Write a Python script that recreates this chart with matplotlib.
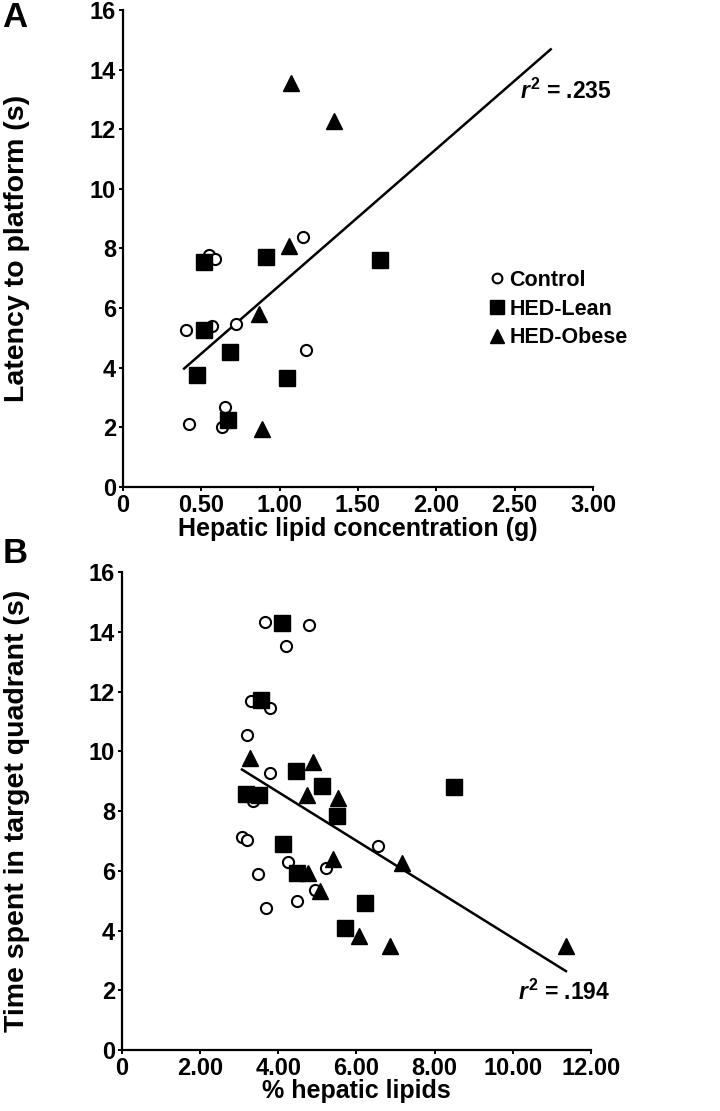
import matplotlib.pyplot as plt
from matplotlib.lines import Line2D

plt.rcParams['font.family'] = ['Liberation Sans', 'DejaVu Sans']
plt.rcParams['font.weight'] = 'bold'
plt.rcParams['axes.labelweight'] = 'bold'
plt.rcParams['mathtext.fontset'] = 'custom'
plt.rcParams['mathtext.rm'] = 'Liberation Sans:bold'
plt.rcParams['mathtext.it'] = 'Liberation Sans:bold:italic'

# panel A: hepatic lipid concentration (g) vs latency (s)
a_ctrl_x = [0.40, 0.42, 0.55, 0.59, 0.57, 0.72, 0.65, 0.63, 1.15, 1.17]
a_ctrl_y = [5.27, 2.12, 7.79, 7.64, 5.41, 5.47, 2.68, 2.01, 8.40, 4.59]
a_lean_x = [0.52, 0.52, 0.47, 0.68, 0.67, 0.91, 1.05, 1.64]
a_lean_y = [7.56, 5.27, 3.74, 4.53, 2.23, 7.73, 3.64, 7.62]
a_obese_x = [1.07, 1.35, 1.06, 0.87, 0.89]
a_obese_y = [13.54, 12.26, 8.07, 5.81, 1.94]
a_fit_x = [0.39, 2.73]
a_fit_y = [3.97, 14.68]

# panel B: % hepatic lipids vs time in target quadrant (s)
b_ctrl_x = [3.65, 4.79, 4.19, 3.31, 3.80, 3.20, 3.80, 3.34, 3.07, 3.20,
            3.48, 4.24, 5.23, 4.95, 4.49, 3.69, 6.54]
b_ctrl_y = [14.33, 14.24, 13.54, 11.67, 11.45, 10.54, 9.28, 8.34, 7.14, 7.02,
            5.90, 6.28, 6.10, 5.35, 4.99, 4.76, 6.82]
b_lean_x = [4.09, 3.57, 3.17, 3.50, 4.46, 5.12, 5.50, 4.11, 4.49, 6.21, 5.71, 8.50]
b_lean_y = [14.30, 11.71, 8.58, 8.52, 9.34, 8.83, 7.84, 6.91, 5.94, 4.91, 4.07, 8.80]
b_obese_x = [3.28, 4.89, 4.73, 5.54, 5.40, 4.75, 5.06, 7.16, 6.06, 6.85, 11.36]
b_obese_y = [9.76, 9.64, 8.55, 8.45, 6.38, 5.91, 5.32, 6.27, 3.81, 3.48, 3.48]
b_fit_x = [3.07, 11.36]
b_fit_y = [9.39, 2.64]

a_xticks = [0, 0.5, 1.0, 1.5, 2.0, 2.5, 3.0]
a_xlabels = ['0', '0.50', '1.00', '1.50', '2.00', '2.50', '3.00']
b_xticks = [0, 2, 4, 6, 8, 10, 12]
b_xlabels = ['0', '2.00', '4.00', '6.00', '8.00', '10.00', '12.00']
yticks = [0, 2, 4, 6, 8, 10, 12, 14, 16]

fig = plt.figure(figsize=(7.2, 11.11), dpi=100)
axA = fig.add_axes([0.1708, 0.5617, 0.6528, 0.4293])
axB = fig.add_axes([0.1694, 0.0549, 0.6514, 0.4302])


def draw(ax, cx, cy, lx, ly, ox, oy, fx, fy, xt, xl):
    ax.plot(fx, fy, color='black', lw=1.8, zorder=2)
    ax.plot(cx, cy, 'o', ms=8, mfc='white', mec='black', mew=1.5, ls='none', zorder=3)
    ax.plot(lx, ly, 's', ms=11.5, color='black', ls='none', zorder=3)
    ax.plot(ox, oy, '^', ms=11, color='black', ls='none', zorder=3)
    for s in ['top', 'right']:
        ax.spines[s].set_visible(False)
    for s in ['left', 'bottom']:
        ax.spines[s].set_linewidth(1.6)
    ax.set_xlim(xt[0], xt[-1])
    ax.set_ylim(0, 16)
    ax.set_xticks(xt)
    ax.set_xticklabels(xl, fontsize=17, fontweight='bold')
    ax.set_yticks(yticks)
    ax.set_yticklabels([str(t) for t in yticks], fontsize=17, fontweight='bold')
    ax.tick_params(width=1.4, length=3, pad=2)


draw(axA, a_ctrl_x, a_ctrl_y, a_lean_x, a_lean_y, a_obese_x, a_obese_y,
     a_fit_x, a_fit_y, a_xticks, a_xlabels)
axA.set_xlabel('Hepatic lipid concentration (g)', fontsize=18)
axA.set_ylabel('Latency to platform (s)', fontsize=20.5)
axA.xaxis.set_label_coords(0.5, -0.062)
axA.yaxis.set_label_coords(-0.197, 0.5)
axA.text(1.04, 0.83, r'$\mathit{r}^{2}$' + ' = .235', transform=axA.transAxes,
         ha='right', va='center', fontsize=16.5)

handles = [
    Line2D([], [], marker='o', ls='none', ms=7, mfc='white', mec='black', mew=1.5),
    Line2D([], [], marker='s', ls='none', ms=10, color='black'),
    Line2D([], [], marker='^', ls='none', ms=10, color='black'),
]
axA.legend(handles, ['Control', 'HED-Lean', 'HED-Obese'], loc='center left',
           bbox_to_anchor=(0.779, 0.373), frameon=False, fontsize=15.5,
           handlelength=0.7, handletextpad=0.25, labelspacing=0.35,
           borderpad=0, borderaxespad=0)

draw(axB, b_ctrl_x, b_ctrl_y, b_lean_x, b_lean_y, b_obese_x, b_obese_y,
     b_fit_x, b_fit_y, b_xticks, b_xlabels)
axB.set_xlabel('% hepatic lipids', fontsize=18)
axB.set_ylabel('Time spent in target quadrant (s)', fontsize=20.5)
axB.xaxis.set_label_coords(0.5, -0.06)
axB.yaxis.set_label_coords(-0.196, 0.5)
axB.text(1.04, 0.12, r'$\mathit{r}^{2}$' + ' = .194', transform=axB.transAxes,
         ha='right', va='center', fontsize=16.5)

fig.text(0.003, 0.984, 'A', fontsize=25, fontweight='bold', va='center')
fig.text(0.003, 0.502, 'B', fontsize=25, fontweight='bold', va='center')

fig.savefig('out.png', dpi=100)
